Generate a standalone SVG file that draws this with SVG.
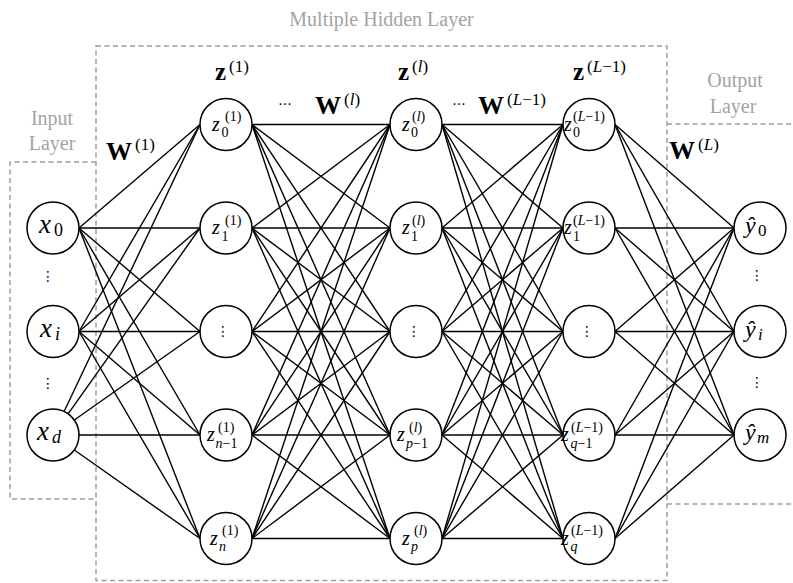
<svg xmlns="http://www.w3.org/2000/svg" width="793" height="583" viewBox="0 0 793 583">
  <style>
    .box { fill: none; stroke: #9e9e9e; stroke-width: 1.5; stroke-dasharray: 5 3.5; }
    .cap { font-family: 'Liberation Serif', 'Times New Roman', serif; font-size: 20px; fill: #a3a3a3; text-anchor: middle; }
    .node circle { fill: #fff; stroke: #000; stroke-width: 1.5; }
    .edges line { stroke: #000; stroke-width: 1.4; }
    .mi { font-family: 'Liberation Serif', 'Times New Roman', serif; font-style: italic; fill: #000; }
    .rm { font-family: 'Liberation Serif', 'Times New Roman', serif; font-style: normal; fill: #000; }
    .bf { font-family: 'Liberation Serif', 'Times New Roman', serif; font-weight: bold; fill: #000; }
    .dots { font-family: 'DejaVu Sans', sans-serif; font-size: 14px; fill: #000; text-anchor: middle; }
    .zv { font-size: 20px; }
    .zs { font-size: 14px; }
  </style>

  <!-- layer frames -->
  <g id="frames">
    <rect class="box" x="96" y="46" width="571" height="534.5"/>
    <path class="box" d="M96,162 H10 V499 H96"/>
    <path class="box" d="M667,124 H795 M667,504 H795"/>
    <text class="cap" x="381.5" y="26">Multiple Hidden Layer</text>
    <text class="cap" x="52" y="125">Input</text>
    <text class="cap" x="52" y="150">Layer</text>
    <text class="cap" x="735" y="87">Output</text>
    <text class="cap" x="733" y="113">Layer</text>
  </g>

  <!-- weights -->
  <g id="connectors" class="edges">
    <!-- input -> hidden 1 -->
    <line x1="79" y1="228" x2="200" y2="124.5"/>
    <line x1="79" y1="228" x2="200" y2="228"/>
    <line x1="79" y1="228" x2="200" y2="331.5"/>
    <line x1="79" y1="228" x2="200" y2="435"/>
    <line x1="79" y1="228" x2="200" y2="538.5"/>
    <line x1="79" y1="331.5" x2="200" y2="124.5"/>
    <line x1="79" y1="331.5" x2="200" y2="228"/>
    <line x1="79" y1="331.5" x2="200" y2="331.5"/>
    <line x1="79" y1="331.5" x2="200" y2="435"/>
    <line x1="79" y1="331.5" x2="200" y2="538.5"/>
    <line x1="64.1" y1="411.5" x2="200" y2="124.5"/>
    <line x1="68.1" y1="413.8" x2="200" y2="228"/>
    <line x1="74.3" y1="420" x2="200" y2="331.5"/>
    <line x1="79" y1="435" x2="200" y2="435"/>
    <line x1="74.3" y1="450" x2="200" y2="538.5"/>
    <!-- hidden 1 -> hidden l -->
    <line x1="252" y1="124.5" x2="390" y2="124.5"/>
    <line x1="252" y1="124.5" x2="390" y2="228"/>
    <line x1="252" y1="124.5" x2="390" y2="331.5"/>
    <line x1="252" y1="124.5" x2="390" y2="435"/>
    <line x1="252" y1="124.5" x2="390" y2="538.5"/>
    <line x1="252" y1="228" x2="390" y2="124.5"/>
    <line x1="252" y1="228" x2="390" y2="228"/>
    <line x1="252" y1="228" x2="390" y2="331.5"/>
    <line x1="252" y1="228" x2="390" y2="435"/>
    <line x1="252" y1="228" x2="390" y2="538.5"/>
    <line x1="252" y1="331.5" x2="390" y2="124.5"/>
    <line x1="252" y1="331.5" x2="390" y2="228"/>
    <line x1="252" y1="331.5" x2="390" y2="331.5"/>
    <line x1="252" y1="331.5" x2="390" y2="435"/>
    <line x1="252" y1="331.5" x2="390" y2="538.5"/>
    <line x1="252" y1="435" x2="390" y2="124.5"/>
    <line x1="252" y1="435" x2="390" y2="228"/>
    <line x1="252" y1="435" x2="390" y2="331.5"/>
    <line x1="252" y1="435" x2="390" y2="435"/>
    <line x1="252" y1="435" x2="390" y2="538.5"/>
    <line x1="252" y1="538.5" x2="390" y2="124.5"/>
    <line x1="252" y1="538.5" x2="390" y2="228"/>
    <line x1="252" y1="538.5" x2="390" y2="331.5"/>
    <line x1="252" y1="538.5" x2="390" y2="435"/>
    <line x1="252" y1="538.5" x2="390" y2="538.5"/>
    <!-- hidden l -> hidden L-1 -->
    <line x1="442" y1="124.5" x2="563" y2="124.5"/>
    <line x1="442" y1="124.5" x2="563" y2="228"/>
    <line x1="442" y1="124.5" x2="563" y2="331.5"/>
    <line x1="442" y1="124.5" x2="563" y2="435"/>
    <line x1="442" y1="124.5" x2="563" y2="538.5"/>
    <line x1="442" y1="228" x2="563" y2="124.5"/>
    <line x1="442" y1="228" x2="563" y2="228"/>
    <line x1="442" y1="228" x2="563" y2="331.5"/>
    <line x1="442" y1="228" x2="563" y2="435"/>
    <line x1="442" y1="228" x2="563" y2="538.5"/>
    <line x1="442" y1="331.5" x2="563" y2="124.5"/>
    <line x1="442" y1="331.5" x2="563" y2="228"/>
    <line x1="442" y1="331.5" x2="563" y2="331.5"/>
    <line x1="442" y1="331.5" x2="563" y2="435"/>
    <line x1="442" y1="331.5" x2="563" y2="538.5"/>
    <line x1="442" y1="435" x2="563" y2="124.5"/>
    <line x1="442" y1="435" x2="563" y2="228"/>
    <line x1="442" y1="435" x2="563" y2="331.5"/>
    <line x1="442" y1="435" x2="563" y2="435"/>
    <line x1="442" y1="435" x2="563" y2="538.5"/>
    <line x1="442" y1="538.5" x2="563" y2="124.5"/>
    <line x1="442" y1="538.5" x2="563" y2="228"/>
    <line x1="442" y1="538.5" x2="563" y2="331.5"/>
    <line x1="442" y1="538.5" x2="563" y2="435"/>
    <line x1="442" y1="538.5" x2="563" y2="538.5"/>
    <!-- hidden L-1 -> output -->
    <line x1="615" y1="124.5" x2="734" y2="228"/>
    <line x1="615" y1="124.5" x2="734" y2="331.5"/>
    <line x1="615" y1="124.5" x2="734" y2="435"/>
    <line x1="615" y1="228" x2="734" y2="228"/>
    <line x1="615" y1="228" x2="734" y2="331.5"/>
    <line x1="615" y1="228" x2="734" y2="435"/>
    <line x1="615" y1="331.5" x2="734" y2="228"/>
    <line x1="615" y1="331.5" x2="734" y2="331.5"/>
    <line x1="615" y1="331.5" x2="734" y2="435"/>
    <line x1="615" y1="435" x2="734" y2="228"/>
    <line x1="615" y1="435" x2="734" y2="331.5"/>
    <line x1="615" y1="435" x2="734" y2="435"/>
    <line x1="615" y1="538.5" x2="734" y2="228"/>
    <line x1="615" y1="538.5" x2="734" y2="331.5"/>
    <line x1="615" y1="538.5" x2="734" y2="435"/>
  </g>

  <!-- layer and weight labels -->
  <g id="labels">
    <text class="bf" x="215" y="80" font-size="25">z</text>
    <text class="rm" x="229" y="72" font-size="17">(1)</text>
    <text class="bf" x="398" y="80" font-size="25">z</text>
    <text class="rm" x="412" y="72" font-size="17">(<tspan class="mi">l</tspan>)</text>
    <text class="bf" x="573" y="80" font-size="25">z</text>
    <text class="rm" x="587" y="72" font-size="17">(<tspan class="mi">L</tspan>−1)</text>

    <text class="bf" x="106" y="160" font-size="26">W</text>
    <text class="rm" x="135" y="150" font-size="17">(1)</text>
    <text class="dots" x="285" y="109">···</text>
    <text class="bf" x="315" y="114" font-size="26">W</text>
    <text class="rm" x="344" y="105" font-size="17">(<tspan class="mi">l</tspan>)</text>
    <text class="dots" x="459" y="109">···</text>
    <text class="bf" x="478" y="114" font-size="26">W</text>
    <text class="rm" x="507" y="105" font-size="17">(<tspan class="mi">L</tspan>−1)</text>
    <text class="bf" x="669" y="159" font-size="26">W</text>
    <text class="rm" x="698" y="150" font-size="17">(<tspan class="mi">L</tspan>)</text>

    <text class="dots" x="48" y="281">⋮</text>
    <text class="dots" x="48" y="388">⋮</text>
    <text class="dots" x="757" y="280">⋮</text>
    <text class="dots" x="757" y="387">⋮</text>
  </g>

  <!-- input layer -->
  <g id="x0" class="node"><circle cx="53" cy="228" r="26"/>
    <text class="mi" x="39" y="233" font-size="27">x</text><text class="rm" x="54" y="236" font-size="18">0</text></g>
  <g id="xi" class="node"><circle cx="53" cy="331.5" r="26"/>
    <text class="mi" x="40" y="336.5" font-size="27">x</text><text class="mi" x="55" y="339.5" font-size="18">i</text></g>
  <g id="xd" class="node"><circle cx="53" cy="435" r="26"/>
    <text class="mi" x="37" y="440" font-size="27">x</text><text class="mi" x="52" y="443" font-size="18">d</text></g>

  <!-- hidden layer 1 -->
  <g id="z1_0" class="node"><circle cx="226" cy="124.5" r="26"/>
    <text class="mi zv" x="212" y="130.5">z</text><text class="rm zs" x="225" y="121">(1)</text><text class="rm zs" x="221.5" y="137">0</text></g>
  <g id="z1_1" class="node"><circle cx="226" cy="228" r="26"/>
    <text class="mi zv" x="212" y="234">z</text><text class="rm zs" x="225" y="224.5">(1)</text><text class="rm zs" x="221.5" y="240.5">1</text></g>
  <g id="z1_dots" class="node"><circle cx="226" cy="331.5" r="26"/>
    <text class="dots" x="223" y="336">⋮</text></g>
  <g id="z1_nm1" class="node"><circle cx="226" cy="435" r="26"/>
    <text class="mi zv" x="207" y="441">z</text><text class="rm zs" x="218" y="431.5">(1)</text><text class="mi zs" x="215.5" y="447.5">n<tspan class="rm">−1</tspan></text></g>
  <g id="z1_n" class="node"><circle cx="226" cy="538.5" r="26"/>
    <text class="mi zv" x="210" y="544.5">z</text><text class="rm zs" x="222" y="535">(1)</text><text class="mi zs" x="219" y="551">n</text></g>

  <!-- hidden layer l -->
  <g id="zl_0" class="node"><circle cx="416" cy="124.5" r="26"/>
    <text class="mi zv" x="402" y="130.5">z</text><text class="rm zs" x="412" y="121">(<tspan class="mi">l</tspan>)</text><text class="rm zs" x="411" y="137">0</text></g>
  <g id="zl_1" class="node"><circle cx="416" cy="228" r="26"/>
    <text class="mi zv" x="402" y="234">z</text><text class="rm zs" x="412" y="224.5">(<tspan class="mi">l</tspan>)</text><text class="rm zs" x="411" y="240.5">1</text></g>
  <g id="zl_dots" class="node"><circle cx="416" cy="331.5" r="26"/>
    <text class="dots" x="414" y="336">⋮</text></g>
  <g id="zl_pm1" class="node"><circle cx="416" cy="435" r="26"/>
    <text class="mi zv" x="397" y="441">z</text><text class="rm zs" x="409" y="431.5">(<tspan class="mi">l</tspan>)</text><text class="mi zs" x="406" y="447.5">p<tspan class="rm">−1</tspan></text></g>
  <g id="zl_p" class="node"><circle cx="416" cy="538.5" r="26"/>
    <text class="mi zv" x="402" y="544.5">z</text><text class="rm zs" x="414" y="535">(<tspan class="mi">l</tspan>)</text><text class="mi zs" x="411" y="551">p</text></g>

  <!-- hidden layer L-1 -->
  <g id="zL_0" class="node"><circle cx="589" cy="124.5" r="26"/>
    <text class="mi zv" x="564" y="130.5">z</text><text class="rm zs" x="573" y="121">(<tspan class="mi">L</tspan>−1)</text><text class="rm zs" x="573" y="137">0</text></g>
  <g id="zL_1" class="node"><circle cx="589" cy="228" r="26"/>
    <text class="mi zv" x="564" y="234">z</text><text class="rm zs" x="573" y="224.5">(<tspan class="mi">L</tspan>−1)</text><text class="rm zs" x="573" y="240.5">1</text></g>
  <g id="zL_dots" class="node"><circle cx="589" cy="331.5" r="26"/>
    <text class="dots" x="587" y="336">⋮</text></g>
  <g id="zL_qm1" class="node"><circle cx="589" cy="435" r="26"/>
    <text class="mi zv" x="561" y="441">z</text><text class="rm zs" x="571" y="431.5">(<tspan class="mi">L</tspan>−1)</text><text class="mi zs" x="570.5" y="447.5">q<tspan class="rm">−1</tspan></text></g>
  <g id="zL_q" class="node"><circle cx="589" cy="538.5" r="26"/>
    <text class="mi zv" x="561" y="544.5">z</text><text class="rm zs" x="571" y="535">(<tspan class="mi">L</tspan>−1)</text><text class="mi zs" x="570.5" y="551">q</text></g>

  <!-- output layer -->
  <g id="y0" class="node"><circle cx="760" cy="228" r="26"/>
    <text class="mi" x="745" y="233" font-size="24">ŷ</text><text class="rm" x="758" y="236" font-size="17">0</text></g>
  <g id="yi" class="node"><circle cx="760" cy="331.5" r="26"/>
    <text class="mi" x="745" y="336.5" font-size="24">ŷ</text><text class="mi" x="758" y="339.5" font-size="17">i</text></g>
  <g id="ym" class="node"><circle cx="760" cy="435" r="26"/>
    <text class="mi" x="745" y="440" font-size="24">ŷ</text><text class="mi" x="757" y="443" font-size="17">m</text></g>
</svg>
